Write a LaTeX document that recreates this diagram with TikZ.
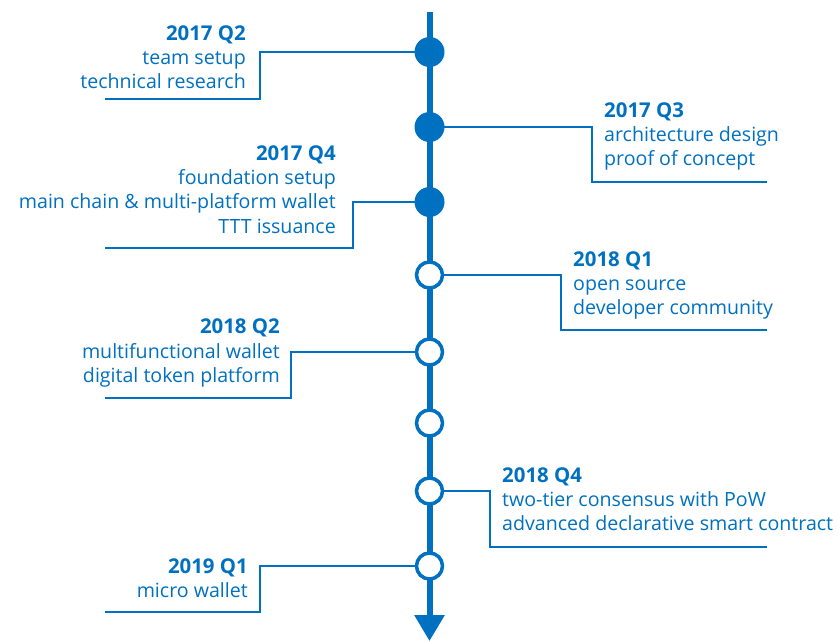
\documentclass[tikz,border=0pt]{standalone}
\usepackage{fontspec}
\setmainfont{Open Sans}
\usetikzlibrary{arrows.meta}
\definecolor{tlblue}{HTML}{0070C0}
\begin{document}
\begin{tikzpicture}[x=1pt,y=-1pt,
  axis/.style={draw=tlblue,line width=6pt},
  link/.style={draw=tlblue,line width=2pt},
  done/.style={circle,fill=tlblue,minimum size=30pt,inner sep=0pt},
  todo/.style={circle,fill=white,draw=tlblue,line width=3.5pt,minimum size=26pt,inner sep=0pt},
  txt/.style={inner sep=0pt,text=tlblue,font=\fontsize{19.6}{24}\selectfont},
  head/.style={txt,font=\fontsize{20.4}{24}\selectfont\bfseries},
  lft/.style={anchor=base east},
  rgt/.style={anchor=base west}]
\useasboundingbox (0,0) rectangle (838,641);

% timeline axis
\coordinate (top) at (429.5,12);
\coordinate (bot) at (429.5,641);
\draw[axis,-{Triangle[length=26pt,width=29pt]}] (top) -- (bot);

% milestone markers
\coordinate (p1) at (429.5,52);
\coordinate (p2) at (429.5,127);
\coordinate (p3) at (429.5,202);
\coordinate (p4) at (429.5,275);
\coordinate (p5) at (429.5,352);
\coordinate (p6) at (429.5,423);
\coordinate (p7) at (429.5,491);
\coordinate (p8) at (429.5,566);

% leader lines
\coordinate (e1) at (105,99);
\coordinate (e2) at (767,182);
\coordinate (e3) at (105,248);
\coordinate (e4) at (767,330);
\coordinate (e5) at (105,398);
\coordinate (e7) at (767,547);
\coordinate (e8) at (105,612);
\draw[link] (p1) -- (260,52) -- (260,99) -- (e1);
\draw[link] (p2) -- (592,127) -- (592,182) -- (e2);
\draw[link] (p3) -- (353,202) -- (353,248) -- (e3);
\draw[link] (p4) -- (561,275) -- (561,330) -- (e4);
\draw[link] (p5) -- (291,352) -- (291,398) -- (e5);
\draw[link] (p7) -- (490,491) -- (490,547) -- (e7);
\draw[link] (p8) -- (260,566) -- (260,612) -- (e8);

\node[done] (m1) at (p1) {};
\node[done] (m2) at (p2) {};
\node[done] (m3) at (p3) {};
\node[todo] (m4) at (p4) {};
\node[todo] (m5) at (p5) {};
\node[todo] (m6) at (p6) {};
\node[todo] (m7) at (p7) {};
\node[todo] (m8) at (p8) {};

% 2017 Q2
\node[head,lft] (h1) at (246,40) {2017 Q2};
\node[txt,lft] (a1) at (246,64) {team setup};
\node[txt,lft] (b1) at (246,88) {technical research};
% 2017 Q3
\node[head,rgt] (h2) at (604,117) {2017 Q3};
\node[txt,rgt] (a2) at (604,141) {architecture design};
\node[txt,rgt] (b2) at (604,165) {proof of concept};
% 2017 Q4
\node[head,lft] (h3) at (336,160) {2017 Q4};
\node[txt,lft] (a3) at (336,184) {foundation setup};
\node[txt,lft] (b3) at (336,208) {main chain \& multi-platform wallet};
\node[txt,lft] (c3) at (336,233) {TTT issuance};
% 2018 Q1
\node[head,rgt] (h4) at (573,266) {2018 Q1};
\node[txt,rgt] (a4) at (573,290) {open source};
\node[txt,rgt] (b4) at (573,314) {developer community};
% 2018 Q2
\node[head,lft] (h5) at (280,333) {2018 Q2};
\node[txt,lft] (a5) at (280,358) {multifunctional wallet};
\node[txt,lft] (b5) at (280,382) {digital token platform};
% 2018 Q4
\node[head,rgt] (h7) at (502,482) {2018 Q4};
\node[txt,rgt] (a7) at (502,506) {two-tier consensus with PoW};
\node[txt,rgt] (b7) at (502,530) {advanced declarative smart contract};
% 2019 Q1
\node[head,lft] (h8) at (248,573) {2019 Q1};
\node[txt,lft] (a8) at (248,597) {micro wallet};
\end{tikzpicture}
\end{document}
